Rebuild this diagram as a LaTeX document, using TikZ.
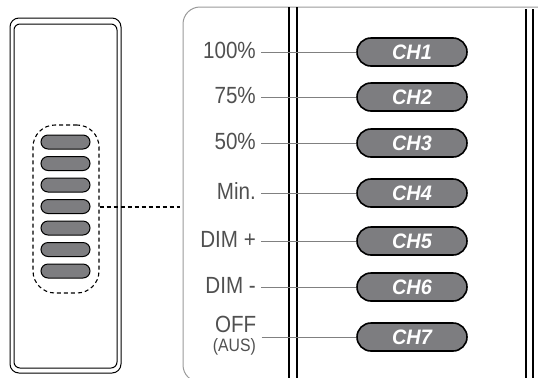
\documentclass[tikz,border=0pt]{standalone}
\usepackage{fontspec}
\newfontfamily\labfont[FakeStretch=0.88]{Liberation Sans}
\newfontfamily\chfont[FakeStretch=0.95]{Liberation Sans}
\definecolor{labgray}{HTML}{505050}
\definecolor{linegray}{HTML}{808080}
\definecolor{btngray}{HTML}{7D7D80}
\definecolor{panelgray}{HTML}{9A9A9A}
\begin{document}
\begin{tikzpicture}[x=1bp,y=-1bp,
  lab/.style={font=\labfont\fontsize{23.5}{24}\selectfont, text=labgray, inner sep=0pt, anchor=base east},
  chpill/.style={draw=black, line width=1.6bp, fill=btngray, minimum width=110bp, minimum height=28bp,
     rounded corners=14bp, inner sep=0pt, text=white, font=\chfont\bfseries\itshape\fontsize{21}{21}\selectfont},
  minibtn/.style={draw=black, line width=1bp, fill=btngray, minimum width=49bp, minimum height=14bp,
     rounded corners=7bp, inner sep=0pt},
  conn/.style={draw=linegray, line width=1bp},
  rail/.style={draw=black, line width=1.8bp},
  dsh/.style={draw=black, line width=1.1bp, dash pattern=on 4bp off 3bp}]
\path[use as bounding box] (0,0) rectangle (538,377);
\clip (0,0) rectangle (538,377);
% left device
\draw[line width=1bp, rounded corners=9bp] (10,18) rectangle (121,373);
\draw[line width=1bp, rounded corners=6bp] (14,24) rectangle (117,368);
\foreach \i/\y in {1/142,2/163.5,3/185,4/206.5,5/228,6/249.5,7/271}
  \node[minibtn] (b\i) at (65.5,\y) {};
\node[dsh, minimum width=66bp, minimum height=168bp, rounded corners=22bp, inner sep=0pt] (grp) at (66,209) {};
\coordinate (dl) at (180,207);
\draw[dsh] (grp.east |- dl) -- (dl);
% panel
\draw[draw=panelgray, line width=1bp, rounded corners=17bp] (545,7) -- (183,7) -- (183,382) -- (320,382);
\draw[rail] (289,7) -- (289,380);
\draw[rail] (297,7) -- (297,380);
\draw[rail] (526,9) -- (526,380);
\draw[rail] (533,9) -- (533,380);
% pills and labels
\foreach \i/\y in {1/52,2/97,3/143,4/193,5/241,6/287,7/337}
  \node[chpill] (c\i) at (412,\y) {CH\i};
\node[lab] (l1) at (256,58) {100\%};
\node[lab] (l2) at (256,103) {75\%};
\node[lab] (l3) at (256,149) {50\%};
\node[lab] (l4) at (256,199) {Min.};
\node[lab] (l5) at (256,247) {DIM +};
\node[lab] (l6) at (256,293) {DIM -};
\node[lab] (l7) at (256.5,332) {OFF};
\node[lab, font=\labfont\fontsize{18}{18}\selectfont] (l7b) at (256,351) {(AUS)};
\foreach \i in {1,...,7}
  \draw[conn] ([xshift=5bp]l\i.base east |- c\i.west) -- (c\i.west);
\end{tikzpicture}
\end{document}
